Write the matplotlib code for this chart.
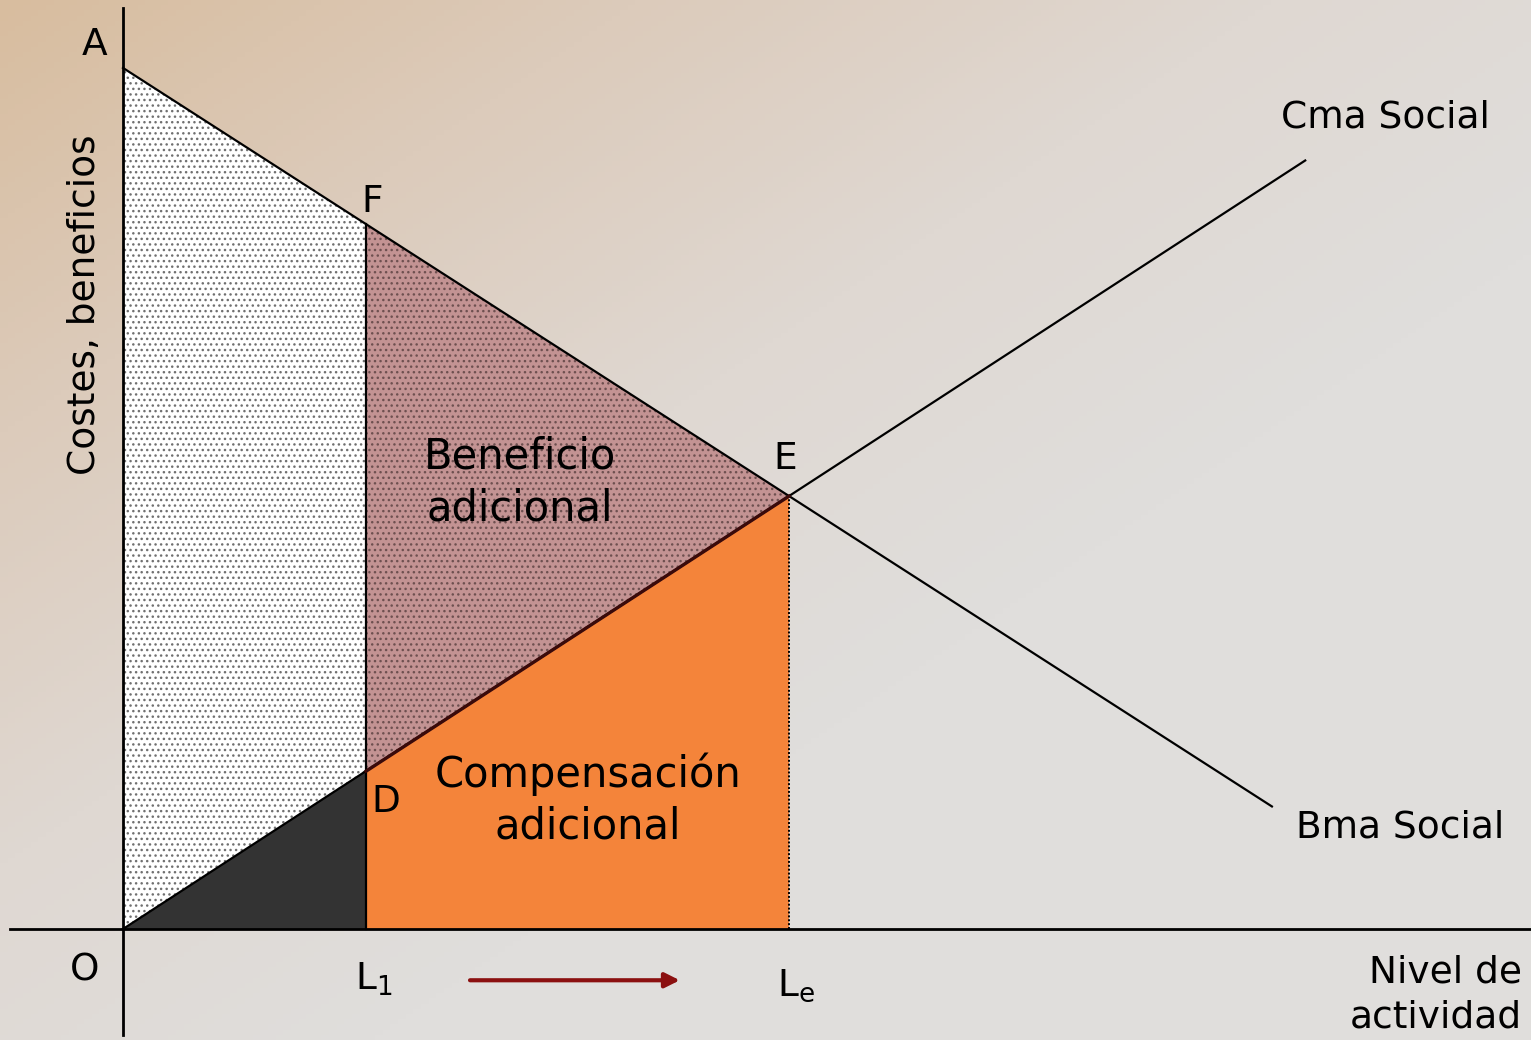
import numpy as np
import matplotlib
matplotlib.use("Agg")
import matplotlib.pyplot as plt
from matplotlib.colors import LinearSegmentedColormap

# key points of the diagram (x = activity level, y = cost / benefit)
bma_x = [0.0, 17.25]
bma_y = [12.93, 1.84]
cma_x = [0.0, 17.75]
cma_y = [0.0, 11.54]
L1 = 3.65
Le = 10.0
F_y = 10.58
D_y = 2.37
E_y = 6.5
arrow_x = [5.21, 8.36]
arrow_y = -0.77

plt.rcParams['font.family'] = ['DejaVu Sans']

fig = plt.figure(figsize=(15.31, 10.40), dpi=100)
ax = fig.add_axes([0, 0, 1, 1])
xmin, xmax = -1.847, 21.14
ymin, ymax = -1.667, 13.95

# background gradient, tan top-left to light grey bottom-right
gx, gy = np.meshgrid(np.linspace(0, 1, 200), np.linspace(0, 1, 200))
grad = np.clip(0.8 * gx + 0.8 * gy, 0, 1)
cmap = LinearSegmentedColormap.from_list('bg', ['#d8bd9f', '#dccbbb', '#dfd8d2', '#e0dedc'])
ax.imshow(grad, cmap=cmap, extent=[xmin, xmax, ymin, ymax], origin='upper',
          aspect='auto', zorder=0)
ax.set_xlim(xmin, xmax)
ax.set_ylim(ymin, ymax)
ax.axis('off')

# left dotted region O-A-F-L1
px = [0, 0, L1, L1]
py = [0, bma_y[0], F_y, 0]
ax.fill(px, py, facecolor='white', edgecolor='none', zorder=1)
ax.fill(px, py, facecolor='none', edgecolor='#707070', hatch='...', linewidth=0, zorder=1.1)

# black triangle O-D-L1
ax.fill([0, L1, L1], [0, D_y, 0], facecolor='#333333', edgecolor='none', zorder=2)

# orange compensation region L1-D-E-Le
ax.fill([L1, L1, Le, Le], [0, D_y, E_y, 0], facecolor='#f4843a', edgecolor='none', zorder=2)

# benefit triangle F-E-D
ax.fill([L1, Le, L1], [F_y, E_y, D_y], facecolor='#c39393', edgecolor='none', zorder=2)
ax.fill([L1, Le, L1], [F_y, E_y, D_y], facecolor='none', edgecolor='#6e5050',
        hatch='...', linewidth=0, zorder=2.1)

# curves
ax.plot(bma_x, bma_y, color='black', lw=1.6, zorder=3)
ax.plot(cma_x, cma_y, color='black', lw=1.6, zorder=3)
ax.plot([L1, Le], [D_y, E_y], color='#3a0a0a', lw=2.4, zorder=3.1)
ax.plot([L1, L1], [0, F_y], color='black', lw=1.6, zorder=3)
ax.plot([Le, Le], [0, E_y], color='black', lw=1.4, ls=(0, (1, 1)), zorder=3)

# axes
ax.plot([0, 0], [-1.59, 13.83], color='black', lw=2, zorder=4)
ax.plot([-1.70, xmax], [0, 0], color='black', lw=2, zorder=4)

# arrow
ax.annotate('', xy=(arrow_x[1], arrow_y), xytext=(arrow_x[0], arrow_y),
            arrowprops=dict(arrowstyle='-|>', color='#8b1010', lw=3, mutation_scale=22,
                            shrinkA=0, shrinkB=0), zorder=5)

fs = 27
ax.text(-0.43, 13.28, 'A', fontsize=fs, ha='center', va='center')
ax.text(3.74, 10.92, 'F', fontsize=fs, ha='center', va='center')
ax.text(9.94, 7.05, 'E', fontsize=fs, ha='center', va='center')
ax.text(3.95, 1.9, 'D', fontsize=fs, ha='center', va='center')
ax.text(-0.58, -0.62, 'O', fontsize=fs, ha='center', va='center')
ax.text(3.77, -0.75, r'L$_1$', fontsize=fs, ha='center', va='center')
ax.text(10.1, -0.85, r'L$_\mathrm{e}$', fontsize=fs, ha='center', va='center')
ax.text(18.95, 12.18, 'Cma Social', fontsize=fs, ha='center', va='center')
ax.text(19.17, 1.52, 'Bma Social', fontsize=fs, ha='center', va='center')
ax.text(21.0, -0.99, 'Nivel de\nactividad', fontsize=fs, ha='right', va='center',
        linespacing=1.3)
ax.text(-0.57, 9.37, 'Costes, beneficios', fontsize=fs, ha='center', va='center', rotation=90)
ax.text(5.96, 6.71, 'Beneficio\nadicional', fontsize=30, ha='center', va='center',
        linespacing=1.3, zorder=6)
ax.text(6.98, 1.94, 'Compensación\nadicional', fontsize=30, ha='center', va='center',
        linespacing=1.3, zorder=6)

fig.savefig('out.png', dpi=100)
